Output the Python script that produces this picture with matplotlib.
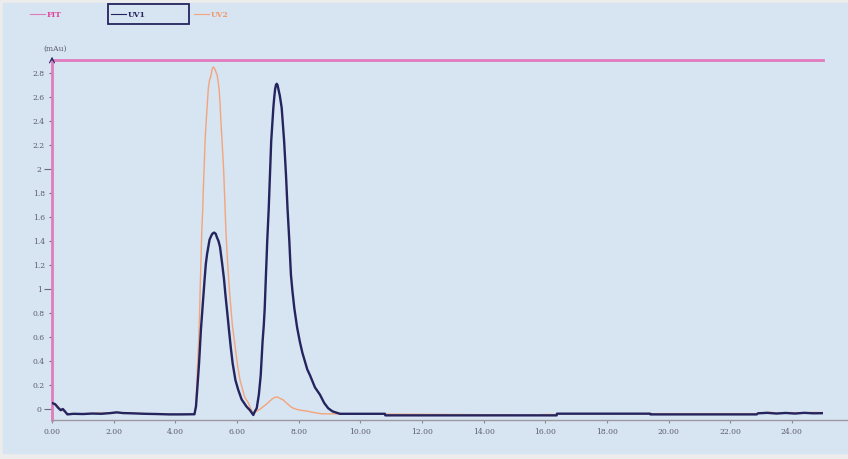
import matplotlib
matplotlib.use("Agg")
import matplotlib.pyplot as plt
from matplotlib.lines import Line2D
from matplotlib.patches import Rectangle
from matplotlib.ticker import FixedLocator

# retention time (min) / absorbance (mAu)
uv1_t = [0.00, 0.10, 0.20, 0.28, 0.35, 0.42, 0.50, 0.70, 1.00, 1.30, 1.60, 1.90,
         2.10, 2.30, 2.60, 3.00, 3.40, 3.80, 4.20, 4.50, 4.62, 4.67, 4.71, 4.74,
         4.77, 4.80, 4.83, 4.87, 4.91, 4.95, 4.99, 5.03, 5.07, 5.11, 5.16, 5.20,
         5.26, 5.31, 5.35, 5.40, 5.45, 5.52, 5.58, 5.63, 5.69, 5.74, 5.80, 5.86,
         5.95, 6.04, 6.15, 6.31, 6.42, 6.53, 6.58, 6.64, 6.71, 6.77, 6.80, 6.83,
         6.87, 6.90, 6.92, 6.94, 6.96, 6.98, 7.005, 7.03, 7.05, 7.07, 7.09, 7.11,
         7.145, 7.18, 7.21, 7.24, 7.265, 7.29, 7.315, 7.34, 7.39, 7.45, 7.49, 7.53,
         7.56, 7.59, 7.615, 7.64, 7.67, 7.70, 7.725, 7.75, 7.80, 7.86, 7.95, 8.04,
         8.12, 8.20, 8.28, 8.37, 8.45, 8.53, 8.61, 8.69, 8.76, 8.83, 8.96, 9.10,
         9.34, 10.80, 10.81, 16.37, 16.38, 19.40, 19.41, 22.86, 22.90, 23.20,
         23.50, 23.80, 24.10, 24.40, 24.70, 24.97]
uv1_a = [0.050, 0.040, 0.010, -0.010, 0.000, -0.020, -0.045, -0.040, -0.042, -0.038,
         -0.040, -0.034, -0.028, -0.034, -0.036, -0.040, -0.042, -0.045, -0.045,
         -0.044, -0.044, 0.02, 0.16, 0.27, 0.38, 0.52, 0.66, 0.80, 0.94, 1.08, 1.21,
         1.29, 1.35, 1.41, 1.44, 1.46, 1.47, 1.46, 1.43, 1.40, 1.35, 1.21, 1.08,
         0.94, 0.79, 0.66, 0.51, 0.38, 0.24, 0.16, 0.08, 0.02, -0.01, -0.05, -0.02,
         0.006, 0.12, 0.28, 0.42, 0.56, 0.70, 0.84, 0.98, 1.12, 1.25, 1.39, 1.53,
         1.67, 1.81, 1.95, 2.09, 2.23, 2.37, 2.51, 2.60, 2.67, 2.70, 2.71, 2.70,
         2.67, 2.61, 2.51, 2.37, 2.23, 2.09, 1.95, 1.81, 1.67, 1.53, 1.39, 1.25,
         1.12, 0.98, 0.84, 0.68, 0.56, 0.47, 0.40, 0.33, 0.28, 0.23, 0.18, 0.15,
         0.12, 0.085, 0.05, 0.006, -0.02, -0.040, -0.040, -0.053, -0.053, -0.039,
         -0.039, -0.045, -0.045, -0.036, -0.032, -0.038, -0.033, -0.038, -0.032,
         -0.036, -0.035]

uv2_t = [0.00, 0.10, 0.20, 0.30, 0.40, 0.50, 0.80, 1.20, 1.60, 2.00, 2.20, 2.60,
         3.00, 3.50, 4.00, 4.50, 4.63, 4.67, 4.70, 4.75, 4.78, 4.80, 4.83, 4.86,
         4.89, 4.91, 4.93, 4.95, 4.97, 5.00, 5.07, 5.11, 5.16, 5.19, 5.23, 5.27,
         5.30, 5.36, 5.42, 5.45, 5.48, 5.51, 5.54, 5.57, 5.59, 5.615, 5.64, 5.67,
         5.70, 5.77, 5.85, 5.94, 6.02, 6.10, 6.25, 6.37, 6.45, 6.53, 6.62, 6.70,
         6.78, 6.85, 6.93, 7.00, 7.08, 7.15, 7.21, 7.27, 7.33, 7.38, 7.44, 7.50,
         7.57, 7.65, 7.74, 7.83, 7.94, 8.05, 8.26, 8.50, 8.75, 15.80, 15.90,
         16.38, 16.40, 19.40, 22.86, 22.90, 23.30, 23.60, 24.00, 24.40, 24.70, 24.97]
uv2_a = [0.040, 0.045, 0.020, -0.010, -0.020, -0.040, -0.040, -0.038, -0.034, -0.030,
         -0.030, -0.036, -0.038, -0.043, -0.044, -0.044, -0.044, 0.05, 0.24, 0.52,
         0.73, 0.94, 1.22, 1.49, 1.67, 1.84, 1.98, 2.12, 2.26, 2.39, 2.67, 2.74,
         2.78, 2.83, 2.85, 2.84, 2.82, 2.78, 2.67, 2.55, 2.39, 2.26, 2.12, 1.98,
         1.84, 1.67, 1.49, 1.34, 1.20, 0.94, 0.70, 0.52, 0.36, 0.24, 0.10, 0.05,
         0.00, -0.036, -0.020, -0.010, 0.005, 0.020, 0.035, 0.050, 0.070, 0.085,
         0.095, 0.100, 0.097, 0.090, 0.083, 0.075, 0.058, 0.040, 0.020, 0.006,
         -0.003, -0.010, -0.017, -0.030, -0.040, -0.050, -0.046, -0.046, -0.039,
         -0.039, -0.039, -0.033, -0.028, -0.034, -0.030, -0.034, -0.028, -0.030]

fit_t = [0.0, 0.0, 25.0]
fit_a = [-0.092, 2.908, 2.908]

x_ticks = [0, 2, 4, 6, 8, 10, 12, 14, 16, 18, 20, 22, 24]
y_major = [0, 1, 2]
y_minor = [0.2, 0.4, 0.6, 0.8, 1.2, 1.4, 1.6, 1.8, 2.2, 2.4, 2.6, 2.8]

navy = "#24245e"
orange = "#f4a47c"
pink = "#e07cbe"
bg = "#d7e4f1"
txt = "#5c5c70"

fig = plt.figure(figsize=(8.48, 4.59), dpi=100, facecolor="#ececec")
fig.patches.append(Rectangle((3 / 848, 6 / 459), 1, 450 / 459,
                             transform=fig.transFigure, color=bg, zorder=-1))

ax = fig.add_axes([52 / 848, 1 - 420 / 459, 1 - 52 / 848, (420 - 54) / 459])
ax.set_zorder(1)
ax.set_facecolor("none")
ax.set_xlim(0, 25.82)
ax.set_ylim(-0.0917, 2.958)

ax.plot(fit_t, fit_a, color=pink, lw=2, zorder=2, clip_on=False)
ax.plot(uv2_t, uv2_a, color=orange, lw=1.0, zorder=3)
ax.plot(uv1_t, uv1_a, color=navy, lw=1.7, zorder=4)

for s in ["top", "right", "left"]:
    ax.spines[s].set_visible(False)
ax.spines["bottom"].set_color("#9a9aa0")
ax.spines["bottom"].set_linewidth(1)

ax.set_xticks(x_ticks)
ax.set_xticklabels([f"{v:.2f}" for v in x_ticks])
ax.yaxis.set_major_locator(FixedLocator(y_major))
ax.yaxis.set_minor_locator(FixedLocator(y_minor))
ax.set_yticklabels([f"{v:g}" for v in y_major])
ax.set_yticklabels([f"{v:g}" for v in y_minor], minor=True)

lab_font = dict(family="DejaVu Serif", size=5.5)
for lab in ax.get_xticklabels() + ax.get_yticklabels() + ax.get_yticklabels(minor=True):
    lab.set_fontfamily("DejaVu Serif")
    lab.set_fontsize(5.5)
    lab.set_color(txt)
ax.tick_params(axis="x", length=2.5, width=0.8, color="#8a8a95", pad=3)
ax.tick_params(axis="y", which="major", length=6, width=0.8, color="#6a6a80", pad=1.5)
ax.tick_params(axis="y", which="minor", length=2.5, width=0.8, color="#6a6a80", pad=2.5)

# arrow head on the y axis and unit label
ax.annotate("", xy=(0, 1.0), xycoords="axes fraction", xytext=(0, 0.975),
            arrowprops=dict(arrowstyle="->,head_width=0.18,head_length=0.35",
                            color=navy, lw=0.8), zorder=5)
ax.annotate("(mAu)", xy=(0, 1.0), xycoords="axes fraction", xytext=(2, 1),
            textcoords="offset points", ha="center", va="bottom",
            color=txt, **lab_font)

handles = [Line2D([], [], color=pink, lw=0.8),
           Line2D([], [], color=navy, lw=0.8),
           Line2D([], [], color=orange, lw=0.8)]
leg = fig.legend(handles, ["FIT", "UV1", "UV2"], loc="center left",
                 bbox_to_anchor=(30 / 848, 1 - 15 / 459), ncol=3, frameon=False,
                 borderpad=0, borderaxespad=0, handlelength=2.0, handletextpad=0.2,
                 columnspacing=6.4, labelcolor=["#e0449a", navy, "#f09a6c"],
                 prop=dict(family="DejaVu Serif", size=5.5, weight="bold"))
fig.patches.append(Rectangle((108 / 848, 1 - 24 / 459), 81 / 848, 20 / 459,
                             transform=fig.transFigure, fill=False,
                             edgecolor=navy, lw=1.3, zorder=3))

fig.savefig("out.png", dpi=100, facecolor=fig.get_facecolor())
